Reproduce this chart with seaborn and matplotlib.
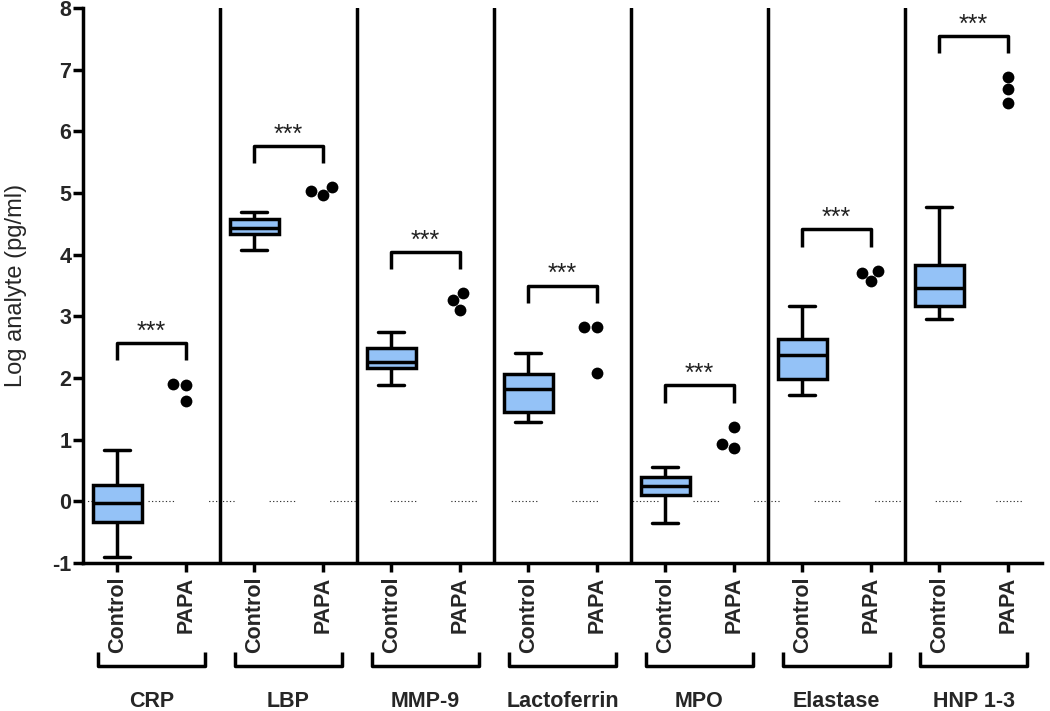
import numpy as np
import pandas as pd
import matplotlib
matplotlib.use("Agg")
import matplotlib.pyplot as plt
import seaborn as sns

# ---------------- data ----------------
analytes = ["CRP", "LBP", "MMP-9", "Lactoferrin", "MPO", "Elastase", "HNP 1-3"]
conditions = ["Control", "PAPA"]

# Control group five-number summaries (log pg/ml): whisker low, Q1, median, Q3, whisker high
control_low = [-0.90, 4.07, 1.88, 1.29, -0.35, 1.72, 2.96]
control_q1 = [-0.33, 4.33, 2.16, 1.45, 0.10, 1.98, 3.16]
control_median = [-0.03, 4.44, 2.26, 1.82, 0.25, 2.38, 3.46]
control_q3 = [0.27, 4.58, 2.49, 2.07, 0.39, 2.64, 3.84]
control_high = [0.83, 4.69, 2.75, 2.41, 0.56, 3.16, 4.78]

# PAPA patients (log pg/ml)
papa_values = [
    [1.90, 1.88, 1.62],
    [5.10, 4.97, 5.04],
    [3.10, 3.38, 3.26],
    [2.83, 2.08, 2.83],
    [0.87, 1.21, 0.93],
    [3.74, 3.58, 3.71],
    [6.46, 6.88, 6.68],
]
significance = ["***"] * 7

yticks = list(range(-1, 9))

# ---------------- style ----------------
sns.set_style("ticks")
plt.rcParams["font.family"] = ["Liberation Sans", "DejaVu Sans"]
plt.rcParams["axes.unicode_minus"] = False
plt.rcParams["lines.scale_dashes"] = False

box_color = "#94C2F7"
lw = 2.5

cats = [f"{a} {c}" for a in analytes for c in conditions]
box_rows = []
for i, a in enumerate(analytes):
    for v in (control_low[i], control_q1[i], control_median[i], control_q3[i], control_high[i]):
        box_rows.append({"cat": f"{a} Control", "value": v})
box_df = pd.DataFrame(box_rows)
papa_rows = []
for i, a in enumerate(analytes):
    for v in papa_values[i]:
        papa_rows.append({"cat": f"{a} PAPA", "value": v})
papa_df = pd.DataFrame(papa_rows)

fig = plt.figure(figsize=(10.5, 7.11), dpi=100)
ax = fig.add_axes([0.0790, 0.2082, 0.9134, 0.7805])

# dotted zero reference line (Prism style segments)
dash_seq = [0.9, 1.6] * 7 + [0.9, 25.2]
ax.axhline(0, color="#333333", lw=0.8, linestyle=(40.4, dash_seq), zorder=0.5)

sns.boxplot(data=box_df, x="cat", y="value", order=cats, whis=(0, 100),
            width=0.72, color=box_color, linecolor="black", linewidth=lw,
            saturation=1, fliersize=0, capwidths=0.38, ax=ax, zorder=2)
sns.swarmplot(data=papa_df, x="cat", y="value", order=cats, color="black",
              size=8.5, ax=ax, zorder=3)

ax.set_xlim(-0.5, len(cats) - 0.5)
ax.set_ylim(-1, 8)
ax.set_yticks(yticks)
ax.set_yticklabels([str(t) for t in yticks], fontweight="bold", fontsize=15.5)
ax.set_xticks(range(len(cats)))
ax.set_xticklabels(conditions * len(analytes), rotation=90, fontweight="bold",
                   fontsize=15.5, va="top", ha="center")
ax.set_xlabel("")
ax.set_ylabel("Log analyte (pg/ml)", fontweight="normal", fontsize=17)
ax.yaxis.set_label_coords(-0.058, 0.5)

ax.tick_params(axis="y", length=7.5, width=lw, pad=1, color="black")
ax.tick_params(axis="x", length=6.5, width=lw, pad=3.5, color="black")
sns.despine(ax=ax)
for s in ("left", "bottom"):
    ax.spines[s].set_linewidth(lw)
    ax.spines[s].set_color("black")

# group separators
for g in range(1, len(analytes)):
    ax.axvline(2 * g - 0.5, color="black", lw=lw, zorder=1)

# significance brackets
for i, vals in enumerate(papa_values):
    h = max(vals) + 0.67
    x0, x1 = 2 * i, 2 * i + 1
    ax.plot([x0, x0, x1, x1], [h - 0.28, h, h, h - 0.28], color="black",
            lw=lw, solid_capstyle="butt", zorder=3)
    ax.annotate(significance[i], xy=((x0 + x1) / 2, h), xytext=(0, 3),
                textcoords="offset points", ha="center", va="baseline",
                fontsize=18, color="#222222")

# group brackets under tick labels
tr = ax.get_xaxis_transform()
for i, a in enumerate(analytes):
    xl, xr = 2 * i - 0.28, 2 * i + 1.28
    ax.plot([xl, xl, xr, xr], [-0.160, -0.1856, -0.1856, -0.160], color="black",
            lw=lw, transform=tr, clip_on=False, solid_capstyle="butt")
    ax.text(2 * i + 0.5, -0.2505, a, transform=tr, ha="center", va="center",
            fontweight="bold", fontsize=15.5)

fig.savefig("out.png", dpi=100)
